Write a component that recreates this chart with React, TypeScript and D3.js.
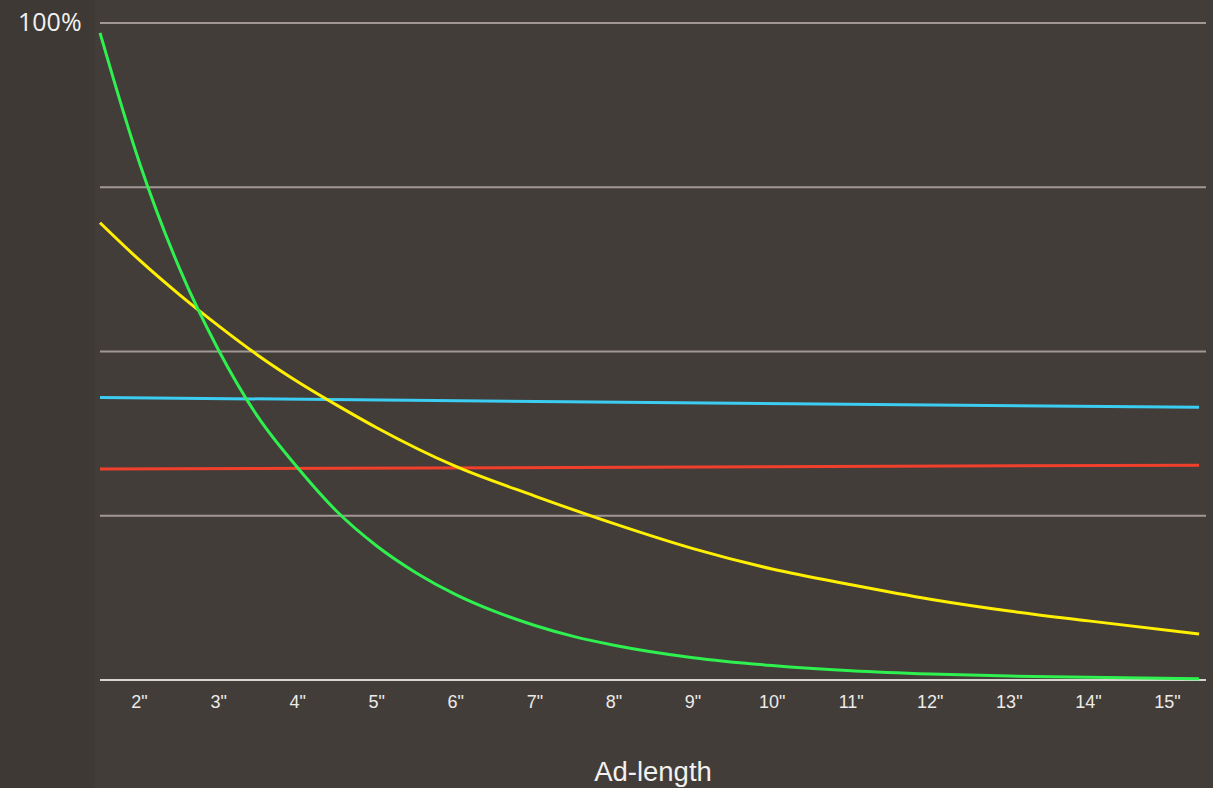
import React from "react";
import * as d3 from "d3";

const W = 1213;
const H = 788;

const tickValues = [2, 3, 4, 5, 6, 7, 8, 9, 10, 11, 12, 13, 14, 15];
const tickLabels = ['2"', '3"', '4"', '5"', '6"', '7"', '8"', '9"', '10"', '11"', '12"', '13"', '14"', '15"'];
const gridValues = [0, 25, 50, 75, 100];

const greenX = [1.5, 2, 2.5, 3, 3.5, 4, 4.5, 5, 5.5, 6, 6.5, 7, 7.5, 8, 9, 10, 11, 12, 13, 14, 15.4];
const greenY = [98.5, 78.7, 62.8, 50.2, 40.0, 32.3, 25.6, 20.4, 16.3, 13.0, 10.4, 8.3, 6.6, 5.3, 3.4, 2.2, 1.4, 0.9, 0.6, 0.4, 0.2];

const yellowX = [1.5, 2, 2.5, 3, 3.5, 4, 4.5, 5, 6, 7, 8, 9, 10, 11, 12, 13, 14, 15.4];
const yellowY = [69.6, 63.9, 58.7, 53.9, 49.4, 45.4, 41.8, 38.4, 32.5, 28.0, 23.8, 20.0, 16.9, 14.5, 12.3, 10.5, 9.0, 7.0];

const cyanX = [1.5, 15.4];
const cyanY = [43.0, 41.5];

const redX = [1.5, 15.4];
const redY = [32.1, 32.7];

const series = [
  { name: "cyan", xs: cyanX, ys: cyanY, color: "#3ccdf2" },
  { name: "red", xs: redX, ys: redY, color: "#f0402c" },
  { name: "yellow", xs: yellowX, ys: yellowY, color: "#fff000" },
  { name: "green", xs: greenX, ys: greenY, color: "#2ef04e" },
];

export default function App() {
  const x = d3.scaleLinear().domain([1.5, 15.5]).range([100, 1207]);
  const y = d3.scaleLinear().domain([0, 100]).range([680, 23]);
  const line = d3
    .line<[number, number]>()
    .x((d) => x(d[0]))
    .y((d) => y(d[1]))
    .curve(d3.curveMonotoneX);

  return (
    <svg
      width={W}
      height={H}
      style={{ position: "absolute", left: 0, top: 0, display: "block" }}
    >
      <rect x={0} y={0} width={W} height={H} fill="#433d39" />
      <rect x={0} y={0} width={95} height={H} fill="#3e3935" />
      {gridValues.map((g) => (
        <line
          key={g}
          x1={100}
          x2={1206}
          y1={y(g)}
          y2={y(g)}
          stroke={g === 0 ? "#d6d3d1" : "#a29893"}
          strokeWidth={2}
        />
      ))}
      {series.map((s) => (
        <path
          key={s.name}
          d={line(s.xs.map((v, i) => [v, s.ys[i]] as [number, number])) || ""}
          fill="none"
          stroke={s.color}
          strokeWidth={3}
        />
      ))}
      {tickValues.map((t, i) => (
        <text
          key={t}
          x={x(t)}
          y={708}
          textAnchor="middle"
          fontFamily="'Liberation Sans', Arial, sans-serif"
          fontSize={18}
          fill="#ecebea"
        >
          {tickLabels[i]}
        </text>
      ))}
      <text
        x={18}
        y={31}
        fontFamily="'Open Sans', 'Noto Sans', sans-serif"
        fontSize={25}
        fill="#f2f1f0"
      >
        100%
      </text>
      <text
        x={653}
        y={781}
        textAnchor="middle"
        fontFamily="'Liberation Sans', Arial, sans-serif"
        fontSize={27.5}
        fill="#f2f1f0"
      >
        Ad-length
      </text>
    </svg>
  );
}
